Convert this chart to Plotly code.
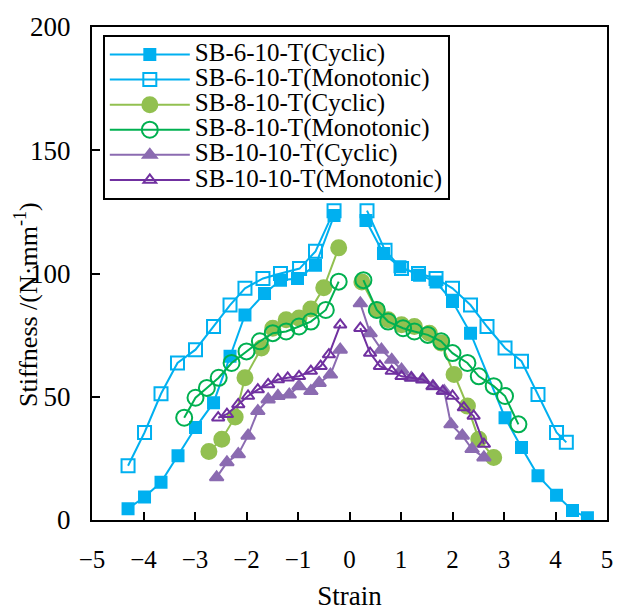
import plotly.graph_objects as go

# SB-6-10-T cyclic
s6c_xl = [-4.30, -3.98, -3.66, -3.33, -2.99, -2.64, -2.32, -2.03, -1.65, -1.34, -1.01, -0.66, -0.30]
s6c_yl = [4.6, 9.3, 15.3, 26.1, 37.5, 47.6, 66.4, 83.2, 91.9, 97.3, 98.0, 103.3, 123.5]
s6c_xr = [0.32, 0.66, 0.98, 1.36, 1.68, 2.00, 2.35, 3.02, 3.34, 3.66, 4.02, 4.33, 4.62]
s6c_yr = [121.5, 108.1, 102.7, 99.3, 96.6, 88.6, 75.8, 41.5, 29.4, 18.0, 10.0, 3.9, 0.9]
# SB-6-10-T monotonic
s6m_xl = [-4.30, -3.98, -3.66, -3.34, -2.99, -2.64, -2.32, -2.03, -1.68, -1.34, -0.97, -0.66, -0.30]
s6m_yl = [22.0, 35.5, 51.2, 63.7, 69.1, 78.5, 87.2, 94.0, 98.0, 100.0, 102.0, 109.0, 125.5]
s6m_xr = [0.34, 0.69, 1.01, 1.34, 1.68, 2.00, 2.35, 2.67, 3.02, 3.34, 3.66, 4.02, 4.21]
s6m_yr = [125.5, 109.4, 102.0, 100.0, 98.0, 94.0, 87.2, 78.5, 69.8, 64.4, 50.9, 35.5, 31.5]
# SB-8-10-T cyclic
s8c_xl = [-2.73, -2.48, -2.22, -2.03, -1.71, -1.49, -1.23, -0.98, -0.75, -0.50, -0.21]
s8c_yl = [27.8, 32.8, 41.8, 57.7, 69.8, 77.8, 81.2, 81.9, 85.6, 94.2, 110.4]
s8c_xr = [0.24, 0.53, 0.75, 1.01, 1.26, 1.55, 1.78, 2.03, 2.29, 2.51, 2.80]
s8c_yr = [96.6, 85.2, 81.2, 79.2, 78.5, 75.8, 71.8, 59.0, 46.2, 32.8, 25.4]
# SB-8-10-T monotonic
s8m_xl = [-3.21, -2.99, -2.77, -2.54, -2.29, -2.00, -1.74, -1.49, -1.23, -0.98, -0.75, -0.46, -0.21]
s8m_yl = [41.5, 49.6, 53.6, 57.7, 63.7, 68.4, 72.5, 75.8, 76.5, 78.5, 80.5, 85.2, 96.7]
s8m_xr = [0.27, 0.53, 0.75, 1.04, 1.26, 1.52, 1.78, 2.00, 2.29, 2.51, 2.80, 3.02, 3.28]
s8m_yr = [97.3, 85.2, 80.5, 77.8, 76.5, 75.1, 72.5, 67.7, 63.7, 58.3, 54.3, 50.3, 38.8]
# SB-10-10-T cyclic
s10c_xl = [-2.58, -2.38, -2.16, -1.97, -1.78, -1.58, -1.39, -1.17, -0.98, -0.75, -0.59, -0.37, -0.18]
s10c_yl = [17.3, 23.4, 26.7, 34.2, 44.2, 48.9, 50.3, 50.9, 54.3, 52.3, 55.6, 59.0, 69.1]
s10c_xr = [0.21, 0.40, 0.62, 0.82, 1.01, 1.20, 1.42, 1.62, 1.84, 1.97, 2.19, 2.38, 2.61]
s10c_yr = [87.9, 75.8, 69.1, 65.0, 61.0, 57.7, 57.0, 54.3, 52.3, 38.8, 34.2, 28.8, 25.4]
# SB-10-10-T monotonic
s10m_xl = [-2.55, -2.38, -2.16, -1.97, -1.78, -1.58, -1.39, -1.20, -0.98, -0.75, -0.56, -0.40, -0.18]
s10m_yl = [41.5, 42.9, 46.9, 50.3, 52.9, 55.0, 57.0, 57.7, 58.3, 60.4, 62.4, 67.1, 79.2]
s10m_xr = [0.21, 0.40, 0.59, 0.82, 1.01, 1.20, 1.42, 1.62, 1.81, 2.00, 2.22, 2.41, 2.61]
s10m_yr = [77.8, 67.7, 62.4, 60.4, 58.3, 57.7, 57.0, 54.3, 52.3, 50.3, 45.6, 42.2, 30.8]

x_ticks = [-5, -4, -3, -2, -1, 0, 1, 2, 3, 4, 5]
x_labels = ["\u22125", "\u22124", "\u22123", "\u22122", "\u22121", "0", "1", "2", "3", "4", "5"]
y_ticks = [0, 50, 100, 150, 200]

series = [
    ("SB-6-10-T(Cyclic)", s6c_xl, s6c_yl, s6c_xr, s6c_yr, "#00B0F0", "square", 11),
    ("SB-6-10-T(Monotonic)", s6m_xl, s6m_yl, s6m_xr, s6m_yr, "#00B0F0", "square-open", 13),
    ("SB-8-10-T(Cyclic)", s8c_xl, s8c_yl, s8c_xr, s8c_yr, "#92C050", "circle", 15),
    ("SB-8-10-T(Monotonic)", s8m_xl, s8m_yl, s8m_xr, s8m_yr, "#00B050", "circle-open", 16),
    ("SB-10-10-T(Cyclic)", s10c_xl, s10c_yl, s10c_xr, s10c_yr, "#8B6BB1", "triangle-up", 12),
    ("SB-10-10-T(Monotonic)", s10m_xl, s10m_yl, s10m_xr, s10m_yr, "#7030A0", "triangle-up-open", 11),
]

fig = go.Figure()
for name, xl, yl, xr, yr, color, sym, size in series:
    fig.add_trace(go.Scatter(
        x=xl + [None] + xr, y=yl + [None] + yr,
        name="<span style='font-size:25px'>" + name + "</span>",
        mode="lines+markers", connectgaps=False,
        line=dict(color=color, width=2),
        marker=dict(symbol=sym, size=size, color=color,
                    line=dict(color=color, width=2)),
    ))

font_family = "Times New Roman, Liberation Serif, DejaVu Serif, serif"
fig.update_layout(
    width=621, height=614,
    margin=dict(l=92, r=8, t=27, b=91),
    plot_bgcolor="white", paper_bgcolor="white",
    font=dict(family=font_family, size=25, color="black"),
    showlegend=True,
    legend=dict(x=0.021, y=0.984, xanchor="left", yanchor="top",
                bgcolor="white", bordercolor="black", borderwidth=2,
                font=dict(family=font_family, size=17, color="black"),
                itemwidth=80, tracegroupgap=0),
    xaxis=dict(range=[-5, 5], tickmode="array", tickvals=x_ticks, ticktext=x_labels,
               ticks="inside", ticklen=8, tickwidth=2, tickcolor="black",
               tickfont=dict(size=25, family=font_family), ticklabelstandoff=16,
               showline=True, linecolor="black", linewidth=2, mirror=True,
               showgrid=False, zeroline=False,
               title=dict(text="Strain", standoff=14, font=dict(size=27, family=font_family))),
    yaxis=dict(range=[0, 200], tickmode="array", tickvals=y_ticks,
               ticks="inside", ticklen=8, tickwidth=2, tickcolor="black",
               tickfont=dict(size=27, family=font_family), ticklabelstandoff=14,
               showline=True, linecolor="black", linewidth=2, mirror=True,
               showgrid=False, zeroline=False),
    annotations=[dict(text="Stiffness /(N\u00b7mm<sup>-1</sup>)", textangle=-90,
                      xref="paper", yref="paper", x=-0.127, y=0.4375,
                      xanchor="center", yanchor="middle", showarrow=False,
                      font=dict(size=26, family=font_family, color="black"))],
)

fig.write_html("out.html")
